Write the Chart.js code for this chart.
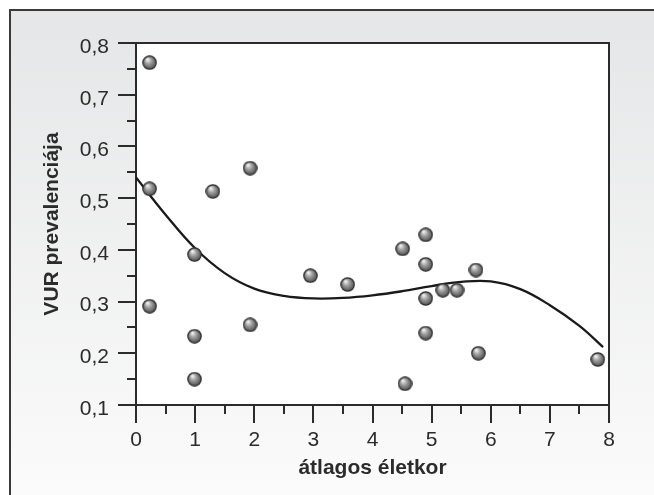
<!DOCTYPE html>
<html>
<head>
<meta charset="utf-8">
<script src="https://cdn.jsdelivr.net/npm/chart.js@4.4.0/dist/chart.umd.min.js"></script>
<style>
  html, body { margin: 0; padding: 0; background: #ffffff; }
  #wrap { width: 654px; height: 495px; }
</style>
</head>
<body>
<div id="wrap"><canvas id="vurChart" width="654" height="495"></canvas></div>
<script>
// Mért pontok (átlagos életkor, VUR prevalencia)
const ages = [0.23, 0.23, 0.23, 0.99, 0.99, 0.99, 1.30, 1.93, 1.93, 2.95, 3.58,
              4.51, 4.55, 4.90, 4.90, 4.90, 4.90, 5.19, 5.43, 5.75, 5.79, 7.81];
const prevalence = [0.762, 0.518, 0.291, 0.391, 0.233, 0.150, 0.513, 0.558, 0.255, 0.350, 0.333,
                    0.402, 0.141, 0.429, 0.372, 0.306, 0.239, 0.322, 0.322, 0.361, 0.200, 0.188];

// Illesztett görbe
const curveAges = [0, 0.5, 1, 1.5, 2, 2.5, 3, 3.5, 4, 4.5, 5, 5.5, 6, 6.5, 7, 7.5, 7.9];
const curveValues = [0.540, 0.468, 0.403, 0.355, 0.325, 0.311, 0.306, 0.307, 0.312,
                     0.320, 0.330, 0.338, 0.339, 0.324, 0.293, 0.253, 0.212];

const xTicks = [0, 1, 2, 3, 4, 5, 6, 7, 8];
const yTicks = [0.1, 0.2, 0.3, 0.4, 0.5, 0.6, 0.7, 0.8];

const INK = '#2b2b2b';
const FONT = '"Liberation Sans", Arial, sans-serif';

// Szürke gömb a pontokhoz
function makeBall(d) {
    const c = document.createElement('canvas');
    c.width = d; c.height = d;
    const g = c.getContext('2d');
    const r = d / 2;
    const grad = g.createRadialGradient(r * 0.7, r * 0.55, r * 0.05, r, r, r);
    grad.addColorStop(0, '#f6f6f6');
    grad.addColorStop(0.4, '#a0a0a0');
    grad.addColorStop(0.85, '#5a5a5a');
    grad.addColorStop(1, '#3c3c3c');
    g.beginPath();
    g.arc(r, r, r - 0.8, 0, Math.PI * 2);
    g.fillStyle = grad;
    g.fill();
    g.lineWidth = 1.2;
    g.strokeStyle = '#2e2e2e';
    g.stroke();
    return c;
}

const frame = {
    id: 'frame',
    beforeDraw(chart) {
        const ctx = chart.ctx;
        const {width, height, chartArea: a} = chart;
        ctx.save();
        ctx.fillStyle = '#ffffff';
        ctx.fillRect(0, 0, width, height);
        const bg = ctx.createLinearGradient(0, 10, 0, height);
        bg.addColorStop(0, '#e5e6e7');
        bg.addColorStop(1, '#fbfbfb');
        ctx.fillStyle = bg;
        ctx.fillRect(10, 10, width - 10, height - 10);
        ctx.strokeStyle = '#3a3a3a';
        ctx.lineWidth = 2;
        ctx.beginPath();
        ctx.moveTo(10, height);
        ctx.lineTo(10, 10);
        ctx.lineTo(width, 10);
        ctx.stroke();
        ctx.fillStyle = '#ffffff';
        ctx.fillRect(a.left, a.top, a.right - a.left, a.bottom - a.top);
        ctx.restore();
    },
    afterDraw(chart) {
        const ctx = chart.ctx;
        const a = chart.chartArea;
        const xs = chart.scales.x, ys = chart.scales.y;
        ctx.save();
        ctx.strokeStyle = INK;
        ctx.lineWidth = 2;
        ctx.beginPath();
        ctx.moveTo(a.left, a.top);
        ctx.lineTo(a.right, a.top);
        ctx.lineTo(a.right, a.bottom);
        ctx.stroke();
        ctx.beginPath();
        for (let i = 0; i <= 16; i++) {
            const v = i / 2;
            const px = Math.round(xs.getPixelForValue(v));
            const len = i % 2 === 0 ? 18 : 9;
            ctx.moveTo(px, a.bottom);
            ctx.lineTo(px, a.bottom + len);
        }
        for (let i = 0; i <= 14; i++) {
            const v = 0.1 + i * 0.05;
            const py = Math.round(ys.getPixelForValue(v));
            const len = i % 2 === 0 ? 18 : 9;
            ctx.moveTo(a.left, py);
            ctx.lineTo(a.left - len, py);
        }
        ctx.stroke();
        ctx.restore();
    }
};

const ball = makeBall(15);

new Chart(document.getElementById('vurChart'), {
    type: 'scatter',
    data: {
        datasets: [{
            label: 'görbe',
            type: 'line',
            data: curveAges.map((x, i) => ({x: x, y: curveValues[i]})),
            borderColor: '#1a1a1a',
            borderWidth: 2.3,
            pointRadius: 0,
            tension: 0.4,
            fill: false,
            order: 2
        }, {
            label: 'VUR prevalencia',
            data: ages.map((x, i) => ({x: x, y: prevalence[i]})),
            pointStyle: ball,
            order: 1
        }]
    },
    options: {
        responsive: false,
        animation: false,
        layout: { padding: { top: 43, right: 45, left: 0, bottom: 0 } },
        plugins: {
            legend: { display: false },
            tooltip: { enabled: false }
        },
        scales: {
            x: {
                type: 'linear',
                min: 0, max: 8,
                afterFit: s => { s.height = 90; },
                afterBuildTicks: s => { s.ticks = xTicks.map(v => ({value: v})); },
                grid: { display: false, drawTicks: true, tickLength: 18 },
                border: { display: true, color: INK, width: 2 },
                ticks: {
                    padding: 5,
                    color: INK,
                    font: { family: FONT, size: 21 },
                    callback: v => String(v)
                },
                title: {
                    display: true,
                    text: 'átlagos életkor',
                    color: INK,
                    padding: { top: 0, bottom: 14 },
                    font: { family: FONT, size: 21, weight: 'bold' }
                }
            },
            y: {
                type: 'linear',
                min: 0.1, max: 0.8,
                afterFit: s => { s.width = 136; },
                afterBuildTicks: s => { s.ticks = yTicks.map(v => ({value: v})); },
                grid: { display: false, drawTicks: true, tickLength: 18 },
                border: { display: true, color: INK, width: 2 },
                ticks: {
                    padding: 9,
                    labelOffset: 4,
                    color: INK,
                    font: { family: FONT, size: 21 },
                    callback: v => v.toFixed(1).replace('.', ',')
                },
                title: {
                    display: true,
                    text: 'VUR prevalenciája',
                    color: INK,
                    padding: { top: 40, bottom: 0 },
                    font: { family: FONT, size: 21, weight: 'bold' }
                }
            }
        }
    },
    plugins: [frame]
});
</script>
</body>
</html>
